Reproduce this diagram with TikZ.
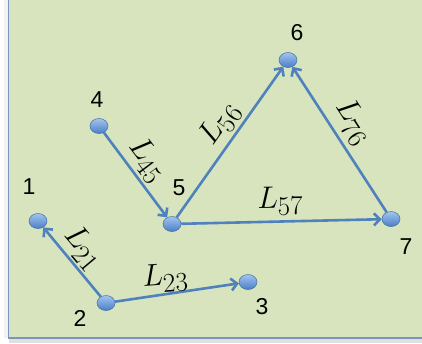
\RequirePackage{fix-cm}
\documentclass[tikz,border=0pt]{standalone}
\usepackage{fontspec}
\newfontfamily\numfont{Liberation Sans}
\usetikzlibrary{arrows.meta,shapes.geometric}
\definecolor{bg}{HTML}{D7E4BD}
\definecolor{framec}{HTML}{7A96BE}
\definecolor{edgec}{HTML}{4F81BD}
\definecolor{vtop}{HTML}{A3C4EE}
\definecolor{vbot}{HTML}{4A7EC8}
\newcommand\Lab[1]{\fontsize{31}{34}\selectfont$L$\kern-0.5pt\raisebox{-7.5pt}{\fontsize{27}{30}\selectfont #1}}
\tikzset{
  vert/.style={ellipse, minimum width=18pt, minimum height=15pt, inner sep=0pt,
    draw=edgec!85!black, line width=0.5pt, top color=vtop, bottom color=vbot},
  edge/.style={draw=edgec, line width=2.6pt, -{Straight Barb[length=6pt,width=12pt]}},
  num/.style={font=\numfont\fontsize{23}{26}\selectfont, inner sep=0pt, text=black},
  elab/.style={inner sep=0pt, text=black}
}
\begin{document}
\begin{tikzpicture}[x=1pt,y=-1pt]
\useasboundingbox (0,0) rectangle (422,343);
\fill[white] (0,0) rectangle (422,343);
\fill[black!12] (9,338) rectangle (422,343);
\fill[black!5] (4,0) rectangle (8,338);
\fill[bg] (8.5,0) rectangle (422,338);
\draw[framec, line width=1.5pt] (8.5,0) -- (8.5,338) -- (422,338);

\node[vert] (n1) at (38,221) {};
\node[vert] (n2) at (106,303) {};
\node[vert] (n3) at (248,282) {};
\node[vert] (n4) at (99,126) {};
\node[vert] (n5) at (172,224) {};
\node[vert] (n6) at (288,60) {};
\node[vert] (n7) at (391,219) {};

\draw[edge] (n4) -- (n5);
\draw[edge] (n5) -- (n6);
\draw[edge] (n5) -- (n7);
\draw[edge] (n7) -- (n6);
\draw[edge] (n2) -- (n1);
\draw[edge] (n2) -- (n3);

\node[num] (t1) at (29,187) {1};
\node[num] (t2) at (80,318) {2};
\node[num] (t3) at (262,307) {3};
\node[num] (t4) at (97,100) {4};
\node[num] (t5) at (179,188) {5};
\node[num] (t6) at (297,33) {6};
\node[num] (t7) at (406,247) {7};

\node[elab, rotate=-53] (l45) at (147,160) {\Lab{45}};
\node[elab, rotate=55] (l56) at (220,124) {\Lab{56}};
\node[elab, rotate=-57] (l76) at (353,122) {\Lab{76}};
\node[elab, rotate=1] (l57) at (280,201) {\Lab{57}};
\node[elab, rotate=-50] (l21) at (83,248) {\Lab{21}};
\node[elab, rotate=4] (l23) at (165,278) {\Lab{23}};
\end{tikzpicture}
\end{document}
